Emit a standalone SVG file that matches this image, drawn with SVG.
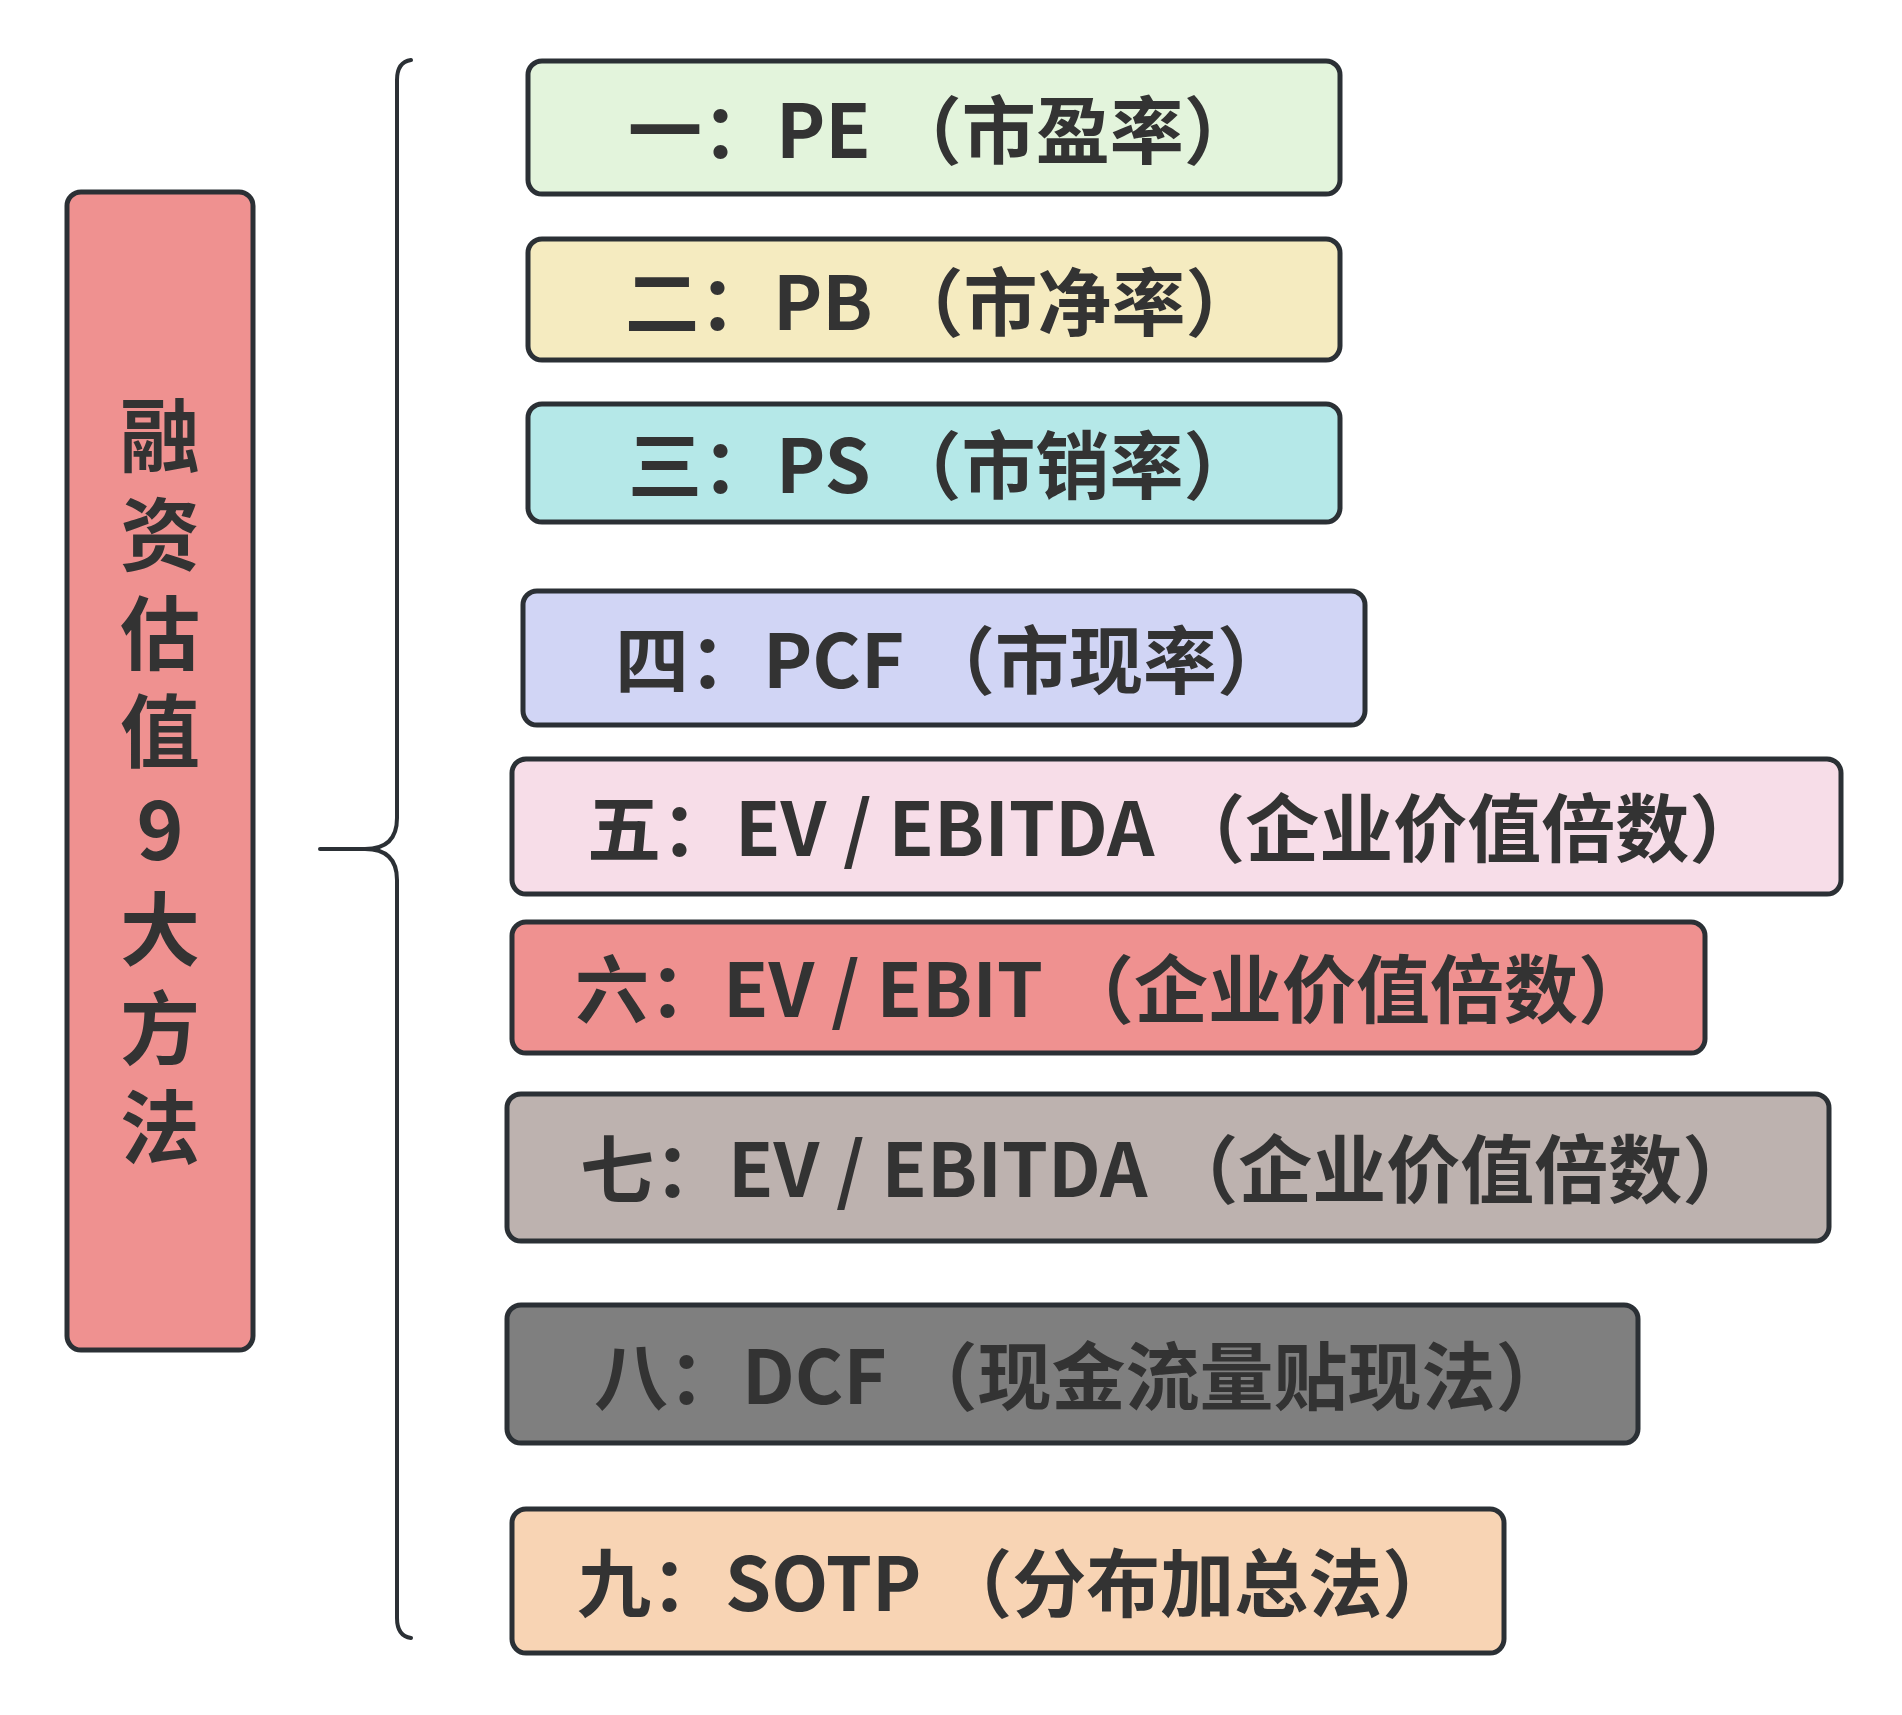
<svg xmlns="http://www.w3.org/2000/svg" width="1902" height="1715" viewBox="0 0 1902 1715">
<style>
.box{stroke:#2b3035;stroke-width:5}
.t{font-family:"Noto Sans CJK SC","Noto Sans",sans-serif;font-weight:700;font-size:74px;fill:#333333;dominant-baseline:central}
.v{font-family:"Noto Sans CJK SC","Noto Sans",sans-serif;font-weight:700;font-size:80px;fill:#333333;text-anchor:middle;dominant-baseline:central}
.br{fill:none;stroke:#2b3035;stroke-width:4;stroke-linecap:round}
</style>
<rect width="1902" height="1715" fill="#ffffff"/>
<g id="root">
<rect class="box" x="67" y="192" width="186" height="1158" rx="14" fill="#ef9190"/>
<text class="v"><tspan x="160" y="430">融</tspan><tspan x="160" y="529">资</tspan><tspan x="160" y="628">估</tspan><tspan x="160" y="726">值</tspan><tspan x="160" y="825">9</tspan><tspan x="160" y="924">大</tspan><tspan x="160" y="1023">方</tspan><tspan x="160" y="1122">法</tspan></text>
</g>
<g id="connectors">
<path class="br" d="M411 60 Q397 62 397 80 L397 818 Q397 849 365 849 L320 849 M365 849 Q397 849 397 880 L397 1618 Q397 1636 411 1638"/>
</g>
<g id="n1"><rect class="box" x="528" y="61" width="812" height="133" rx="14" fill="#e3f4dc"/><text class="t" x="628" y="125">一：PE （市盈率）</text></g>
<g id="n2"><rect class="box" x="528" y="239" width="812" height="121" rx="14" fill="#f5ebc0"/><text class="t" x="625" y="297">二：PB （市净率）</text></g>
<g id="n3"><rect class="box" x="528" y="404" width="812" height="118" rx="14" fill="#b5e8e8"/><text class="t" x="628" y="460">三：PS （市销率）</text></g>
<g id="n4"><rect class="box" x="523" y="591" width="842" height="134" rx="14" fill="#d1d5f5"/><text class="t" x="615" y="655">四：PCF （市现率）</text></g>
<g id="n5"><rect class="box" x="512" y="759" width="1329" height="135" rx="14" fill="#f7dde8"/><text class="t" x="587" y="823">五：EV / EBITDA （企业价值倍数）</text></g>
<g id="n6"><rect class="box" x="512" y="922" width="1193" height="131" rx="14" fill="#ef9190"/><text class="t" x="575" y="984">六：EV / EBIT （企业价值倍数）</text></g>
<g id="n7"><rect class="box" x="507" y="1094" width="1322" height="147" rx="14" fill="#bdb2af"/><text class="t" x="580" y="1164">七：EV / EBITDA （企业价值倍数）</text></g>
<g id="n8"><rect class="box" x="507" y="1305" width="1131" height="138" rx="14" fill="#7f7f7f"/><text class="t" x="594" y="1371">八：DCF （现金流量贴现法）</text></g>
<g id="n9"><rect class="box" x="512" y="1509" width="992" height="144" rx="14" fill="#f8d4b4"/><text class="t" x="577" y="1578">九：SOTP （分布加总法）</text></g>
</svg>
